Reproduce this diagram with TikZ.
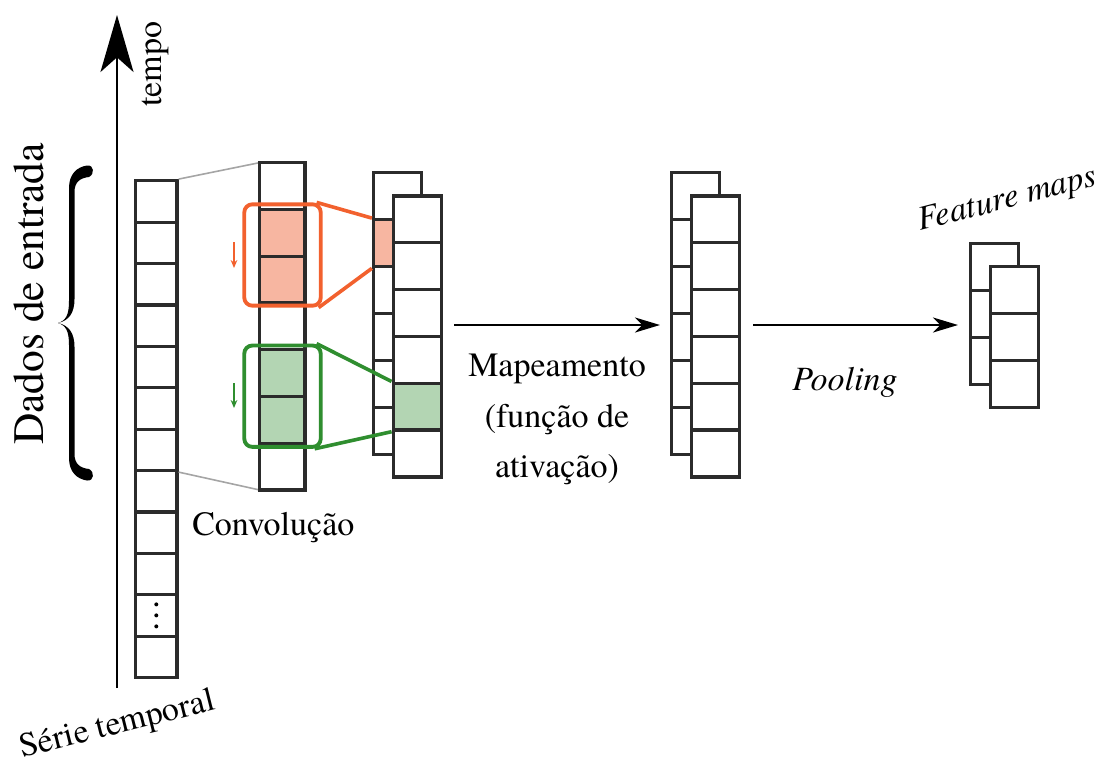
\documentclass[tikz,border=0pt]{standalone}
\usepackage{fontspec}
\setmainfont{texgyretermes}[Extension=.otf, UprightFont=*-regular, ItalicFont=*-italic, BoldFont=*-bold, BoldItalicFont=*-bolditalic]
\usetikzlibrary{arrows.meta}
\definecolor{cellline}{HTML}{2B2B2B}
\definecolor{oline}{HTML}{F2612E}
\definecolor{ofill}{HTML}{F7B6A1}
\definecolor{gline}{HTML}{2F8E2F}
\definecolor{gfill}{HTML}{B3D5B3}
\definecolor{grayline}{HTML}{A5A5A5}
\begin{document}
\begin{tikzpicture}[x=0.75pt,y=-0.75pt,
  lbl/.style={font=\fontsize{25.5}{30}\selectfont, inner sep=0pt},
  incell/.style={draw=cellline, line width=2.4pt, fill=white, inner sep=0pt,
                 minimum width=31.1pt, minimum height=31.05pt},
  midcell/.style={draw=cellline, line width=2.4pt, fill=white, inner sep=0pt,
                 minimum width=34.3pt, minimum height=35.06pt},
  mapcell/.style={draw=cellline, line width=2.4pt, fill=white, inner sep=0pt,
                 minimum width=36pt, minimum height=35.25pt},
  selbox/.style={line width=2.9pt, rounded corners=6pt, inner sep=0pt,
                 minimum width=57.3pt, minimum height=76pt},
  link/.style={line width=2.7pt},
  flow/.style={line width=1.8pt, -{Stealth[length=18.75pt,width=11.25pt,inset=5.5pt]}},
  nudge/.style={line width=1.3pt, -{Stealth[length=6pt,width=5pt]}}
]
\useasboundingbox (0,0) rectangle (1105,764);

% time axis
\coordinate (t0) at (117,688);
\coordinate (t1) at (117,15);
\draw[line width=1.5pt, -{Stealth[length=42.75pt,width=24.75pt,inset=11pt]}] (t0) -- (t1);
\node[lbl, rotate=90, anchor=base west] (tempo) at (161,107) {tempo};

% input label with brace
\node[lbl, font=\fontsize{32.6}{36}\selectfont, rotate=90, anchor=base west] (dados) at (43,445) {Dados de entrada};
\begin{scope}[shift={(72,323)}]
  \foreach \s in {1,-1}{
    \fill[black, yscale=\s]
      (-14,0) .. controls (-6,-2.5) and (-3,-8) .. (-3,-22)
      -- (-3,-135) .. controls (-3,-149) and (5,-156) .. (15,-157.5)
      .. controls (22,-158.5) and (23,-149) .. (17,-146)
      .. controls (8,-145) and (2.5,-141) .. (2.5,-131)
      -- (2.5,-24) .. controls (2.5,-10) and (-3,-2.5) .. (-14,0) -- cycle;
  }
\end{scope}

% input series
\foreach \i in {1,...,12}
  \node[incell] (in\i) at (156.3,{180.7+41.4*(\i-0.5)}) {};
% elided cells marker
\foreach \k in {-11,0,11}
  \fill[black] ([yshift=\k*0.75pt]in11.center) circle[radius=1.5pt];

% convolution layer
\draw[grayline, line width=1.2pt] (in1.north east) -- (259.3,162.7);
\draw[grayline, line width=1.2pt] (in7.south east) -- (259.3,489.9);
\foreach \i/\c in {1/white,2/ofill,3/ofill,4/white,5/gfill,6/gfill,7/white}
  \node[midcell, fill=\c] (mid\i) at (282.2,{162.7+46.75*(\i-0.5)}) {};

\node[selbox, draw=oline] (obox) at (282.5,255) {};
\node[selbox, draw=gline] (gbox) at (282.5,396.2) {};

\coordinate (oa0) at (234,242);
\coordinate (oa1) at (234,268);
\draw[nudge, oline] (oa0) -- (oa1);
\coordinate (ga0) at (234,383);
\coordinate (ga1) at (234,408);
\draw[nudge, gline] (ga0) -- (ga1);

% first feature map pair
\foreach \i/\c in {1/white,2/ofill,3/white,4/white,5/white,6/white}
  \node[mapcell, fill=\c] (fa\i) at (397.5,{172.7+47*(\i-0.5)}) {};
\foreach \i/\c in {1/white,2/white,3/white,4/white,5/gfill,6/white}
  \node[mapcell, fill=\c] (fb\i) at (417.2,{196+46.8*(\i-0.5)}) {};

\draw[link, oline] ([xshift=-4.5pt]obox.north east) -- (fa2.north west);
\draw[link, oline] ([xshift=-3pt]obox.south east) -- (fa2.south west);
\draw[link, gline] ([xshift=-4.5pt]gbox.north east) -- (fb5.north west);
\draw[link, gline] ([xshift=-6pt]gbox.south east) -- (fb5.south west);

% activation output
\foreach \i in {1,...,6}
  \node[mapcell] (ga\i) at (695.5,{172.7+47*(\i-0.5)}) {};
\foreach \i in {1,...,6}
  \node[mapcell] (gb\i) at (715.5,{196+46.8*(\i-0.5)}) {};

% pooled maps
\foreach \i in {1,...,3}
  \node[mapcell] (ha\i) at (994.2,{243.3+47*(\i-0.5)}) {};
\foreach \i in {1,...,3}
  \node[mapcell] (hb\i) at (1014.2,{266.7+46.8*(\i-0.5)}) {};

% flow arrows
\coordinate (p1s) at (454,325);
\coordinate (p1e) at (660,325);
\draw[flow] (p1s) -- (p1e);
\coordinate (p2s) at (753,325);
\coordinate (p2e) at (958,325);
\draw[flow] (p2s) -- (p2e);

% labels
\node[lbl, anchor=base] (mapa) at (557,376.7) {Mapeamento};
\node[lbl, anchor=base] (mapb) at (557,427) {(função de};
\node[lbl, anchor=base] (mapc) at (557,477) {ativação)};
\node[lbl, anchor=base west] (conv) at (192,535) {Convolução};
\node[lbl, anchor=base west] (pool) at (792,390) {\itshape Pooling};
\node[lbl, anchor=base west, rotate=14.5] (feat) at (920,231) {\itshape Feature maps};
\node[lbl, anchor=base west, rotate=14] (serie) at (22,758) {Série temporal};
\end{tikzpicture}
\end{document}
